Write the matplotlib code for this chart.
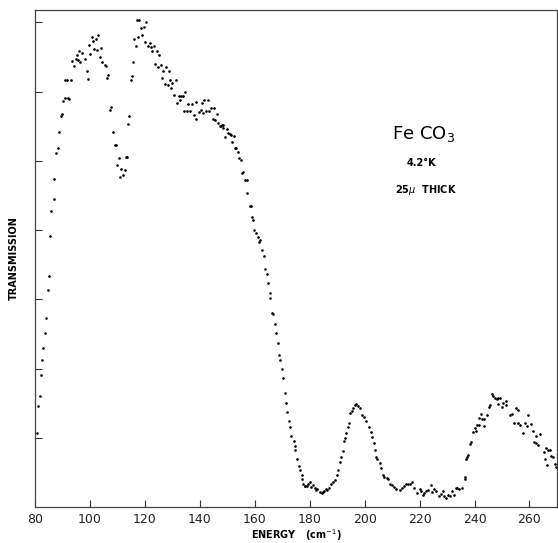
# FeCO3 far-infrared transmission spectrum, 4.2 K, 25 micron sample
import numpy as np
import matplotlib
matplotlib.use("Agg")
import matplotlib.pyplot as plt

# energy (cm^-1) and transmission (arbitrary units)
energy = [
    80.5, 81.2, 81.7, 82.2, 82.6, 83.0, 83.6, 84.0, 84.6, 85.1,
    85.5, 85.9, 86.7, 86.9, 87.7, 88.3, 88.8, 89.3, 89.7, 90.2,
    90.8, 92.0, 92.5, 91.0, 91.5, 93.0, 94.1, 93.6, 94.7, 95.2,
    96.0, 95.7, 96.5, 97.1, 98.2, 98.8, 99.3, 99.5, 100.0, 100.6,
    101.1, 101.6, 102.2, 102.5, 103.0, 103.7, 104.1, 104.3, 105.3, 105.8,
    106.7, 106.2, 107.2, 107.7, 108.5, 109.1, 109.5, 110.4, 109.8, 111.4,
    110.9, 112.0, 112.7, 113.1, 113.5, 113.7, 114.3, 114.8, 115.3, 115.6,
    116.1, 116.7, 117.6, 118.9, 117.1, 117.9, 118.7, 119.5, 120.4, 120.1,
    121.2, 121.8, 122.1, 122.7, 123.3, 124.3, 123.6, 124.6, 125.2, 126.4,
    126.2, 125.7, 127.5, 127.2, 128.3, 128.7, 129.1, 130.0, 131.3, 129.5,
    130.5, 132.3, 133.0, 133.7, 134.7, 132.7, 131.7, 134.2, 135.2, 136.3,
    135.8, 137.1, 138.4, 137.7, 138.5, 139.5, 140.3, 141.2, 140.7, 141.6,
    143.0, 142.2, 143.3, 144.2, 145.3, 146.2, 144.6, 145.6, 146.7, 147.3,
    147.7, 148.2, 148.5, 148.3, 149.8, 149.2, 150.4, 151.1, 151.5, 152.3,
    151.7, 152.9, 153.3, 153.8, 154.4, 154.9, 155.5, 155.8, 156.5, 157.0,
    157.3, 158.1, 158.5, 158.9, 159.4, 159.7, 160.5, 161.0, 161.6, 161.9,
    162.7, 163.3, 163.6, 164.3, 164.8, 165.5, 165.6, 166.2, 166.5, 167.3,
    167.6, 168.6, 168.8, 169.3, 169.8, 170.2, 170.9, 171.2, 171.7, 172.4,
    172.8, 173.3, 174.1, 174.5, 174.8, 175.2, 176.0, 176.4, 177.0, 177.2,
    177.6, 178.1, 178.4, 179.0, 179.5, 180.1, 180.5, 181.2, 181.8, 182.3,
    182.8, 183.6, 184.3, 184.7, 185.3, 185.9, 186.4, 186.9, 187.7, 188.5,
    189.2, 189.9, 190.4, 190.9, 191.5, 192.1, 192.5, 193.0, 193.3, 193.9,
    194.2, 194.8, 195.3, 195.7, 196.4, 197.0, 197.6, 198.2, 199.0, 199.7,
    200.6, 201.5, 202.2, 202.8, 203.3, 203.6, 204.0, 204.5, 205.5, 206.1,
    206.7, 207.2, 208.0, 208.5, 209.2, 209.8, 210.7, 211.5, 213.0, 213.7,
    214.2, 214.9, 215.7, 216.6, 217.3, 218.1, 219.0, 220.0, 220.6, 221.5,
    222.2, 221.2, 223.2, 224.0, 224.5, 225.3, 226.1, 227.0, 227.7, 228.5,
    229.0, 229.7, 230.4, 230.9, 231.7, 232.4, 233.1, 233.6, 234.3, 235.3,
    236.5, 236.7, 237.0, 237.3, 237.8, 238.4, 238.9, 239.4, 240.0, 240.6,
    240.8, 241.6, 241.8, 242.7, 242.4, 243.5, 244.5, 243.6, 245.2, 245.8,
    246.4, 246.9, 247.5, 248.1, 248.7, 249.3, 248.7, 249.9, 250.5, 251.3,
    251.6, 252.8, 253.5, 254.5, 255.2, 255.9, 255.9, 256.7, 257.6, 258.3,
    259.0, 259.4, 260.6, 261.2, 261.6, 262.4, 262.4, 263.2, 264.0, 265.2,
    266.1, 266.9, 267.5, 265.7, 266.3, 268.0, 268.5, 269.2, 269.7,
]
transmission = [
    1.07, 1.46, 1.60, 1.91, 2.12, 2.30, 2.51, 2.73, 3.14, 3.34,
    3.92, 4.28, 4.45, 4.74, 5.11, 5.19, 5.41, 5.65, 5.67, 5.87,
    5.90, 5.91, 5.89, 6.17, 6.17, 6.17, 6.37, 6.44, 6.47, 6.52,
    6.59, 6.46, 6.42, 6.55, 6.47, 6.29, 6.18, 6.67, 6.54, 6.78,
    6.73, 6.62, 6.76, 6.60, 6.81, 6.50, 6.63, 6.42, 6.38, 6.37,
    6.24, 6.20, 5.73, 5.78, 5.42, 5.23, 5.23, 5.04, 4.94, 4.88,
    4.76, 4.80, 4.87, 5.05, 5.06, 5.53, 5.65, 6.17, 6.22, 6.42,
    6.76, 6.66, 6.79, 6.81, 7.03, 7.03, 6.91, 6.93, 7.01, 6.71,
    6.66, 6.70, 6.64, 6.58, 6.66, 6.59, 6.40, 6.35, 6.52, 6.30,
    6.19, 6.38, 6.35, 6.11, 6.09, 6.30, 6.16, 6.13, 6.16, 6.05,
    5.95, 5.93, 5.93, 5.94, 5.99, 5.88, 5.83, 5.72, 5.72, 5.72,
    5.82, 5.82, 5.85, 5.66, 5.61, 5.71, 5.74, 5.69, 5.83, 5.88,
    5.88, 5.72, 5.72, 5.76, 5.76, 5.68, 5.60, 5.59, 5.54, 5.50,
    5.50, 5.51, 5.52, 5.48, 5.46, 5.35, 5.40, 5.38, 5.37, 5.36,
    5.27, 5.18, 5.19, 5.12, 5.04, 5.01, 4.83, 4.84, 4.72, 4.72,
    4.53, 4.35, 4.35, 4.19, 4.14, 4.00, 3.96, 3.90, 3.83, 3.86,
    3.71, 3.62, 3.44, 3.36, 3.24, 3.09, 3.02, 2.81, 2.79, 2.64,
    2.51, 2.37, 2.20, 2.12, 2.00, 1.87, 1.65, 1.51, 1.37, 1.25,
    1.15, 1.03, 0.96, 0.88, 0.83, 0.69, 0.60, 0.54, 0.46, 0.40,
    0.34, 0.31, 0.30, 0.30, 0.34, 0.36, 0.29, 0.32, 0.28, 0.25,
    0.26, 0.22, 0.21, 0.22, 0.24, 0.26, 0.25, 0.28, 0.34, 0.36,
    0.39, 0.47, 0.53, 0.65, 0.73, 0.81, 0.96, 1.00, 1.07, 1.15,
    1.21, 1.36, 1.39, 1.43, 1.47, 1.49, 1.46, 1.43, 1.33, 1.30,
    1.25, 1.16, 1.08, 1.01, 0.92, 0.83, 0.73, 0.70, 0.64, 0.57,
    0.46, 0.44, 0.42, 0.40, 0.34, 0.32, 0.29, 0.26, 0.25, 0.28,
    0.30, 0.33, 0.34, 0.34, 0.37, 0.28, 0.20, 0.26, 0.24, 0.21,
    0.24, 0.17, 0.25, 0.32, 0.22, 0.26, 0.24, 0.16, 0.19, 0.23,
    0.16, 0.13, 0.17, 0.16, 0.23, 0.17, 0.28, 0.27, 0.26, 0.27,
    0.43, 0.41, 0.70, 0.72, 0.75, 0.91, 0.94, 1.08, 1.14, 1.10,
    1.18, 1.19, 1.29, 1.27, 1.34, 1.27, 1.33, 1.17, 1.44, 1.47,
    1.64, 1.61, 1.57, 1.56, 1.57, 1.57, 1.49, 1.45, 1.50, 1.53,
    1.47, 1.33, 1.34, 1.22, 1.43, 1.40, 1.22, 1.18, 1.07, 1.21,
    1.17, 1.33, 1.20, 1.10, 0.94, 0.92, 1.03, 0.90, 1.05, 0.80,
    0.86, 0.83, 0.83, 0.69, 0.61, 0.74, 0.72, 0.62, 0.58,
]

x_ticks = [80, 100, 120, 140, 160, 180, 200, 220, 240, 260]
y_ticks = [1, 2, 3, 4, 5, 6, 7]

fig = plt.figure(figsize=(5.58, 5.43), dpi=100)
ax = fig.add_axes([0.063, 0.066, 0.935, 0.916])

ax.plot(energy, transmission, "k.", markersize=1.8, linestyle="none")

ax.set_xlim(80, 270)
ax.set_ylim(0, 7.18)
ax.set_xticks(x_ticks)
ax.set_yticks(y_ticks)
ax.set_yticklabels([])
ax.tick_params(direction="in", length=5, width=0.8, color="#333333",
               labelsize=9, pad=4)
ax.tick_params(axis="x", labelcolor="#222222")
for s in ax.spines.values():
    s.set_linewidth(0.9)
    s.set_color("#444444")

ax.set_xlabel("ENERGY   (cm$^{-1}$)", fontsize=7, fontweight="bold",
              labelpad=1)
ax.set_ylabel("TRANSMISSION", fontsize=7, fontweight="bold", labelpad=8)

ax.text(221.5, 5.38, "Fe CO$_3$", fontsize=13, ha="center", va="center")
ax.text(220.7, 4.97, "4.2°K", fontsize=7, fontweight="bold",
        ha="center", va="center")
ax.text(222.5, 4.58, "25$\\mu$  THICK", fontsize=7, fontweight="bold",
        ha="center", va="center")

fig.savefig("out.png", dpi=100)
